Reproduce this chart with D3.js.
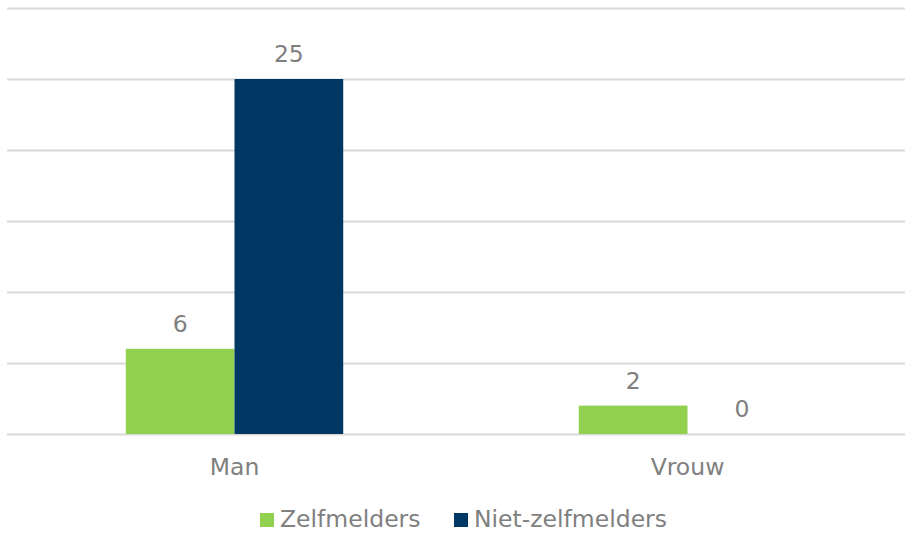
<!DOCTYPE html>
<html>
<head>
<meta charset="utf-8">
<script src="https://cdn.jsdelivr.net/npm/d3@7"></script>
<style>
  html, body { margin: 0; padding: 0; background: #fff; }
  svg { display: block; }
  text { font-family: "DejaVu Sans", Verdana, sans-serif; fill: #808080; }
</style>
</head>
<body>
<svg id="chart" width="905" height="533"></svg>
<script>
const categories = ["Man", "Vrouw"];
const seriesNames = ["Zelfmelders", "Niet-zelfmelders"];
const zelfmelders = [6, 2];
const nietZelfmelders = [25, 0];
const yTicks = [0, 5, 10, 15, 20, 25, 30];
const colors = ["#92d050", "#003863"];

const seriesValues = [zelfmelders, nietZelfmelders];
const svg = d3.select("#chart");
const W = 905, H = 533;
const FS = 23.5;
const plot = { left: 8, right: 914, top: 8, bottom: 434 };

const y = d3.scaleLinear().domain([0, 30]).range([plot.bottom, plot.top]);
const x0 = d3.scaleBand().domain(categories).range([plot.left, plot.right])
  .paddingInner(0.52).paddingOuter(0.26);
const x1 = d3.scaleBand().domain(seriesNames).range([0, x0.bandwidth()]);

// gridlines
svg.append("g").selectAll("line").data(yTicks).join("line")
  .attr("x1", 7).attr("x2", W)
  .attr("y1", d => Math.round(y(d)) + 0.5).attr("y2", d => Math.round(y(d)) + 0.5)
  .attr("stroke", "#d9d9d9").attr("stroke-width", 2);

const data = [];
categories.forEach((c, i) => {
  seriesNames.forEach((s, j) => {
    data.push({ cat: c, series: s, value: seriesValues[j][i], color: colors[j] });
  });
});

svg.append("g").selectAll("rect").data(data).join("rect")
  .attr("x", d => x0(d.cat) + x1(d.series))
  .attr("width", x1.bandwidth())
  .attr("y", d => y(d.value))
  .attr("height", d => y(0) - y(d.value))
  .attr("fill", d => d.color);

svg.append("g").selectAll("text").data(data).join("text")
  .attr("x", d => x0(d.cat) + x1(d.series) + x1.bandwidth() / 2)
  .attr("y", d => y(d.value) - 17)
  .attr("text-anchor", "middle")
  .attr("font-size", FS)
  .text(d => d.value);

// category axis labels
svg.append("g").selectAll("text").data(categories).join("text")
  .attr("x", d => x0(d) + x0.bandwidth() / 2)
  .attr("y", 475)
  .attr("text-anchor", "middle")
  .attr("font-size", FS)
  .text(d => d);

// legend
const legendItems = [
  { name: seriesNames[0], color: colors[0], x: 260 },
  { name: seriesNames[1], color: colors[1], x: 454 }
];
const lg = svg.append("g").selectAll("g").data(legendItems).join("g")
  .attr("transform", d => `translate(${d.x},0)`);
lg.append("rect").attr("x", 0).attr("y", 513).attr("width", 14).attr("height", 14)
  .attr("fill", d => d.color);
lg.append("text").attr("x", 20).attr("y", 527).attr("font-size", FS).text(d => d.name);
</script>
</body>
</html>
